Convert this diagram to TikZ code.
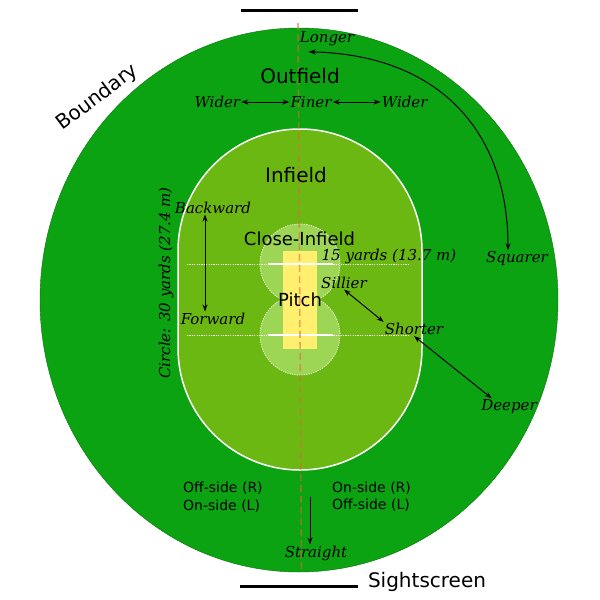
\documentclass[tikz,border=0pt]{standalone}
\usepackage{fontspec}
\setmainfont{DejaVu Sans}
\newfontfamily\dirfont{DejaVu Serif}
\usetikzlibrary{arrows.meta,calc,positioning}
\definecolor{fdouter}{RGB}{11,163,17}
\definecolor{fdinner}{RGB}{108,184,18}
\definecolor{fdclose}{RGB}{157,213,84}
\definecolor{fdpitch}{RGB}{255,240,112}
\definecolor{fdline}{RGB}{230,100,60}

\begin{document}
\begin{tikzpicture}[x=1pt,y=-1pt,>={Stealth[length=7pt,width=5pt]},
      zone/.style={font=\fontsize{20}{24}\selectfont,inner sep=1pt},
      czone/.style={font=\fontsize{18}{22}\selectfont,inner sep=1pt},
      lab/.style={font=\dirfont\itshape\fontsize{15}{18}\selectfont,inner sep=1pt},
      sidetxt/.style={font=\fontsize{14}{17.5}\selectfont,align=left,anchor=west,inner sep=1pt},
      a/.style={<->,line width=1pt},
      crease/.style={draw=white,line width=1.5pt},
      dotline/.style={draw=white,line width=.7pt,dash pattern=on 1.2pt off 1.2pt}]
      \useasboundingbox (0,0) rectangle (600,600);
      % field areas
      \filldraw[fill=fdouter,draw=fdouter!70!black,line width=.4pt] (299,300) ellipse[x radius=259,y radius=272];
      \filldraw[fill=fdinner,draw=white,line width=1.5pt] (178,348) -- (178,251) arc[start angle=180,end angle=360,radius=122]
        -- (422,348) arc[start angle=0,end angle=180,radius=122] -- cycle;
      \filldraw[fill=fdclose,dotline] (281.6,299.5) arc[start angle=117.4,end angle=422.6,radius=40]
        arc[start angle=-62.6,end angle=242.6,radius=40] -- cycle;
      \fill[fdpitch] (283,251) rectangle (317,349);
      \draw[crease] (268,264) -- (333,264); \draw[crease] (268,335) -- (333,335);
      \draw[dotline] (187,264) -- (408,264); \draw[dotline] (187,335) -- (408,335);
      \draw[fdline,opacity=.55,line width=1.6pt,dash pattern=on 7pt off 4pt] (298,23) -- (301.5,572);
      % sightscreens
      \draw[line width=3pt] (241,10) -- (358,10);
      \draw[line width=3pt] (240,586) -- (358,586);
      % labels
      \node[lab] (longer) at (327,38.5) {Longer};
      \node[zone] (outfield) at (300,76) {Outfield};
      \node[lab] (finer) at (311,102) {Finer};
      \node[lab,left=48pt of finer] (widerl) {Wider};
      \node[lab,right=48pt of finer] (widerr) {Wider};
      \node[zone] (infield) at (296,175) {Infield};
      \node[lab] (backward) at (213,207.5) {Backward};
      \node[lab] (forward) at (213,318.5) {Forward};
      \node[lab,rotate=90] (circtxt) at (166,283) {Circle: 30 yards (27.4 m)};
      \node[czone] (closein) at (299.5,238.5) {Close-Infield};
      \node[lab] (fifteen) at (389,256.5) {15 yards (13.7 m)};
      \node[lab] (sillier) at (344,282.5) {Sillier};
      \node[czone] (pitch) at (300,300) {Pitch};
      \node[lab] (shorter) at (414,329) {Shorter};
      \node[lab] (squarer) at (517,258.5) {Squarer};
      \node[lab] (deeper) at (509,406.5) {Deeper};
      \node[zone,rotate=37] (boundary) at (97.5,97.5) {Boundary};
      \node[sidetxt] (leftside) at (182,497) {Off-side (R)\\On-side (L)};
      \node[sidetxt] (rightside) at (331,496.5) {On-side (R)\\Off-side (L)};
      \node[lab] (straight) at (316,553) {Straight};
      \node[zone] (sight) at (427,582) {Sightscreen};
      \coordinate (strfrom) at (310,497);
      % arrows
      \draw[a] (widerl.east) -- (finer.west); \draw[a] (finer.east) -- (widerr.west);
      \draw[a] ([xshift=10pt,yshift=-5pt]longer.south west) .. controls +(131,3) and +(0,-118) .. ([xshift=-9pt]squarer.north);
      \draw[a] ([xshift=-8pt]backward.south) -- ([xshift=-8pt]forward.north);
      \draw[a] (sillier.south) -- (shorter.north west);
      \draw[a] (shorter.south) -- ($(deeper.north west)!.4!(deeper.north)$);
      \draw[->,line width=1pt] (strfrom) -- ([xshift=-6pt]straight.north);
    \end{tikzpicture}
\end{document}
